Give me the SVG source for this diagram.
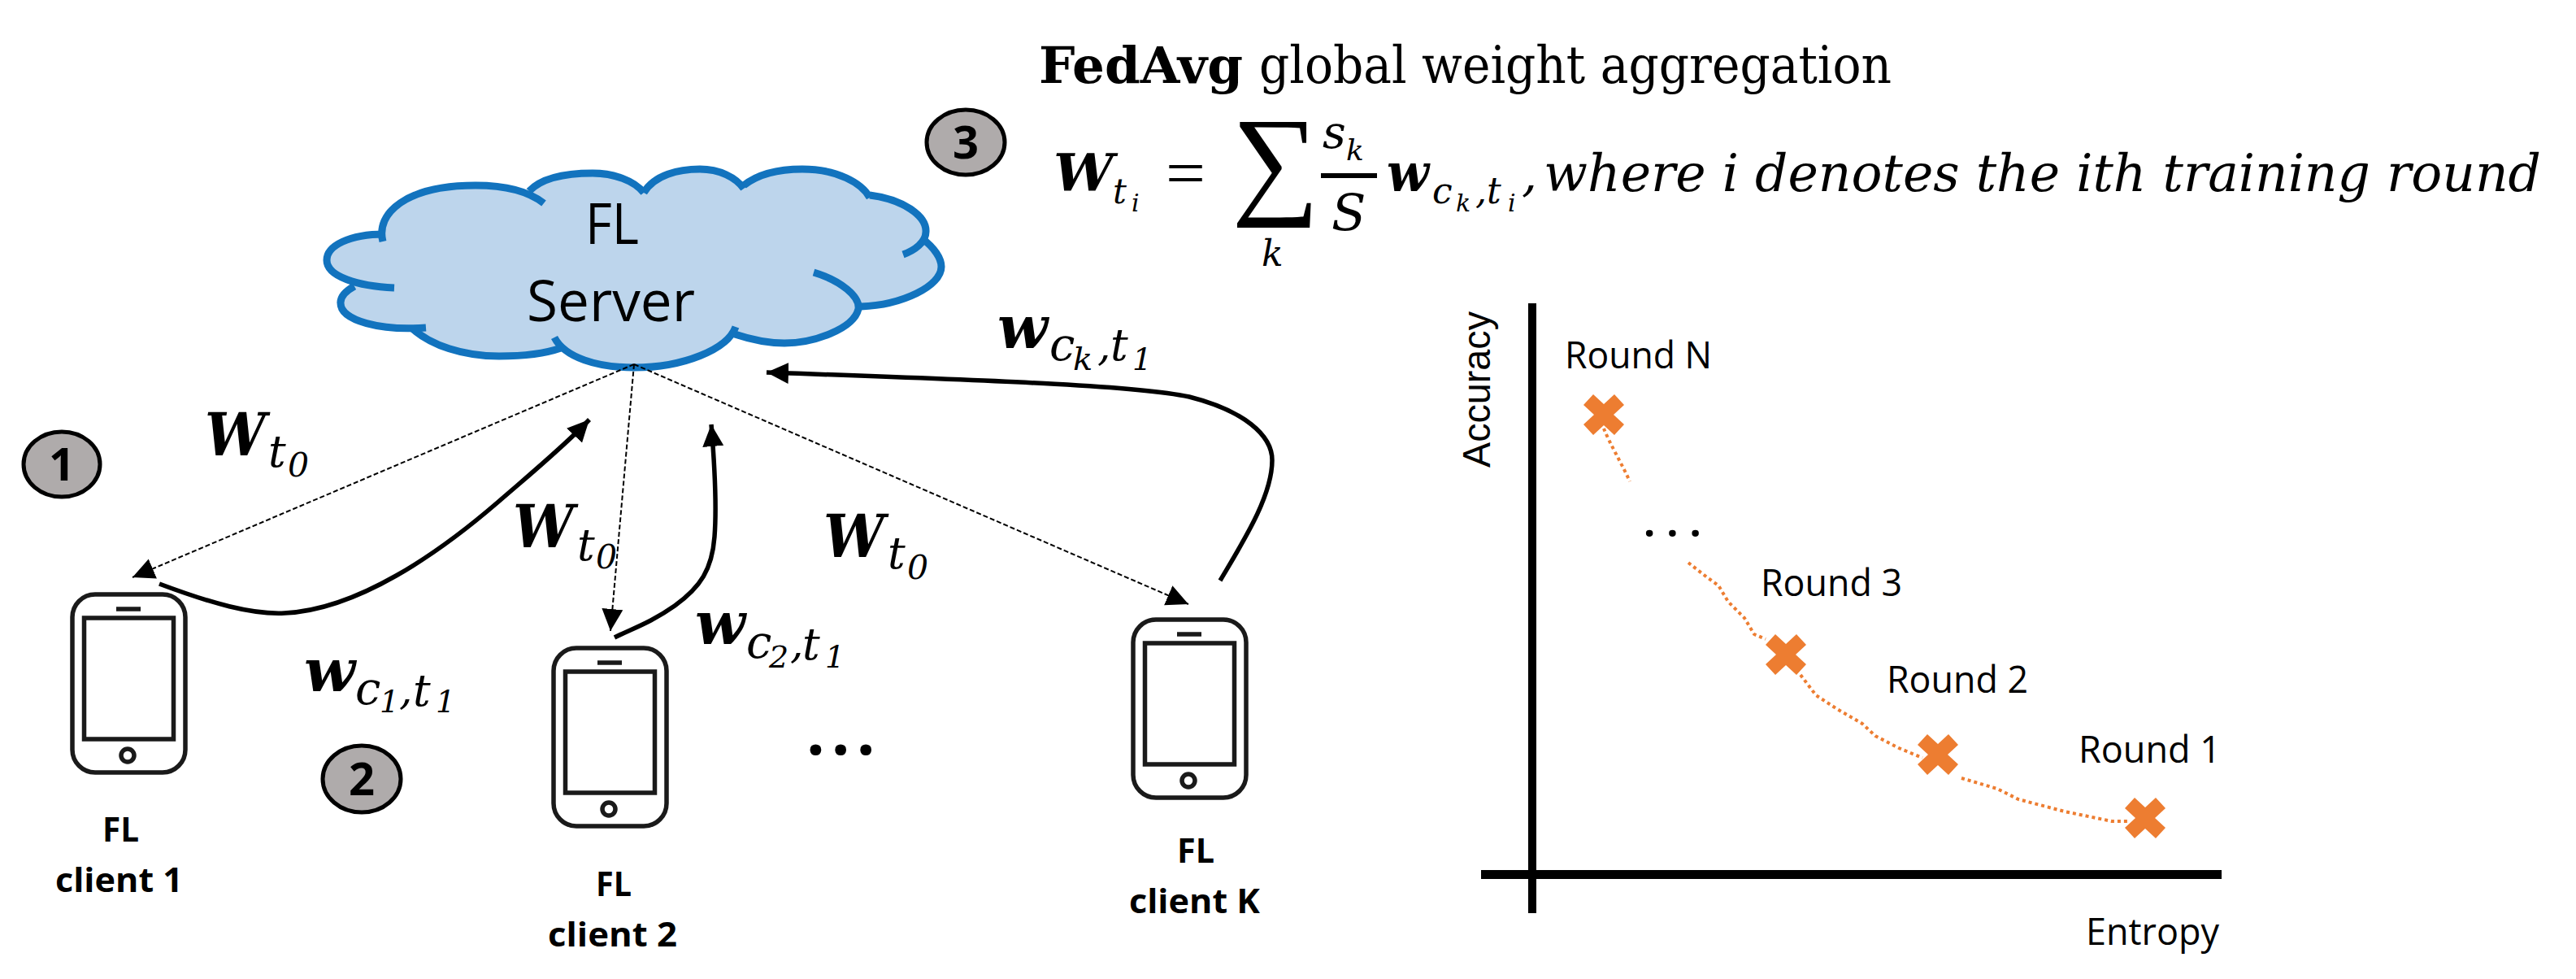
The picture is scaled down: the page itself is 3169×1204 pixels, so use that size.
<svg xmlns="http://www.w3.org/2000/svg" width="3169" height="1204" viewBox="0 0 3169 1204">
<style>
.lb{font-family:"Open Sans","Noto Sans",sans-serif;fill:#000}
.b{font-weight:700}
.mi{font-family:"DejaVu Serif",serif;font-style:italic;fill:#000}
.mb{font-family:"DejaVu Serif",serif;font-style:italic;font-weight:700;fill:#000}
.dash{fill:none;stroke:#000;stroke-width:2;stroke-dasharray:6 3}
.solid{fill:none;stroke:#000;stroke-width:5.5}
.dot{fill:none;stroke:#ED7D31;stroke-width:4;stroke-dasharray:4 4;stroke-linejoin:round}
.lobe{fill:none;stroke:#1273BE;stroke-width:9}
.badge{fill:#AFABAB;stroke:#000;stroke-width:5}
.ph{fill:none;stroke:#1a1a1a;stroke-width:5.5}
.cross{fill:#ED7D31}
.axis{fill:#000}
</style>
<defs>
<marker id="ah" markerUnits="userSpaceOnUse" markerWidth="30" markerHeight="30" refX="27" refY="13" orient="auto"><path d="M0 0L27 13L0 26Z" fill="#000"/></marker>
<g id="phone"><rect class="ph" x="0" y="0" width="139" height="219" rx="28"/><rect class="ph" x="14.5" y="29" width="110" height="149"/><path class="ph" d="M54 18H84"/><circle class="ph" cx="68" cy="198" r="8"/></g>
<polygon id="x" class="cross" points="-13,-25 0,-13 13,-25 25,-12 12,0 25,12 13,25 0,13 -13,25 -25,12 -12,0 -25,-12"/>
</defs>

<g id="title">
<text x="1278" y="102" font-family="'DejaVu Serif',serif" font-weight="700" font-size="62" textLength="251" lengthAdjust="spacingAndGlyphs">FedAvg</text>
<text x="1549" y="102" font-family="'DejaVu Serif',serif" font-size="64" textLength="778" lengthAdjust="spacingAndGlyphs">global weight aggregation</text>
</g>

<g id="formula">
<text class="mb" x="1296" y="235" font-size="64" textLength="74" lengthAdjust="spacingAndGlyphs">W</text>
<text class="mi" x="1369" y="250" font-size="42">t</text>
<text class="mi" x="1392" y="260" font-size="30">i</text>
<text x="1434" y="240" font-family="'Liberation Serif',serif" font-size="80" textLength="49" lengthAdjust="spacingAndGlyphs">=</text>
<text x="1515" y="248" font-family="'Liberation Serif',serif" font-size="150" textLength="108" lengthAdjust="spacingAndGlyphs">∑</text>
<text class="mi" x="1552" y="327" font-size="44">k</text>
<text class="mi" x="1627" y="182" font-size="56">s</text>
<text class="mi" x="1656" y="197" font-size="36">k</text>
<rect x="1625" y="213" width="69" height="6"/>
<text class="mi" x="1638" y="283" font-size="62">S</text>
<text class="mb" x="1706" y="235" font-size="66" textLength="52" lengthAdjust="spacingAndGlyphs">w</text>
<text class="mi" x="1762" y="250" font-size="44">c</text>
<text class="mi" x="1791" y="260" font-size="30">k</text>
<text class="mi" x="1815" y="250" font-size="44">,</text>
<text class="mi" x="1829" y="250" font-size="44">t</text>
<text class="mi" x="1855" y="260" font-size="30">i</text>
<text class="mi" x="1872" y="235" font-size="60">,</text>
<text class="mi" x="1899" y="235" font-size="64" textLength="1227" lengthAdjust="spacingAndGlyphs">where i denotes the ith training round</text>
</g>

<g id="badges">
<g id="badge-1"><ellipse class="badge" cx="76" cy="571" rx="47" ry="40"/><text class="lb b" x="76" y="591" font-size="56" text-anchor="middle">1</text></g>
<g id="badge-2"><ellipse class="badge" cx="445" cy="958" rx="48" ry="41"/><text class="lb b" x="445" y="978" font-size="56" text-anchor="middle">2</text></g>
<g id="badge-3"><ellipse class="badge" cx="1188" cy="175" rx="48" ry="40"/><text class="lb b" x="1188" y="195" font-size="56" text-anchor="middle">3</text></g>
</g>

<g id="server">
<path fill="#BDD5EC" d="M471 297C462 262 500 228 585 228C605 228 635 232 651 235C670 215 710 213 729 213C755 213 780 222 792 235C805 215 835 208 861 208C885 208 905 218 915 228C935 212 965 208 987 208C1030 208 1060 225 1070 240C1110 245 1140 265 1139 285C1139 288 1137 291 1134 293C1150 305 1158 318 1158 328C1158 352 1110 375 1059 377L1056 380C1050 405 1000 422 965 422C945 422 925 418 904 411C895 430 840 452 780 452C735 452 705 442 690 428C670 435 640 438 614 438C570 438 530 425 506 405C470 407 418 395 419 372C419 365 425 358 436 352C420 345 402 335 402 320C402 302 430 288 471 288Z"/>
<path class="lobe" d="M471 297C462 262 500 228 585 228C620 228 650 235 669 250"/>
<path class="lobe" d="M651 235C670 215 710 213 729 213C755 213 780 222 792 237"/>
<path class="lobe" d="M792 237C805 215 835 208 861 208C885 208 905 218 915 232"/>
<path class="lobe" d="M915 228C935 212 965 208 987 208C1030 208 1060 225 1070 243"/>
<path class="lobe" d="M1070 240C1110 245 1140 265 1139 285C1139 298 1125 308 1111 313"/>
<path class="lobe" d="M1134 293C1150 305 1158 318 1158 328C1158 352 1110 375 1059 377"/>
<path class="lobe" d="M1001 335C1035 345 1058 365 1056 380C1050 405 1000 422 965 422C945 422 925 418 904 411"/>
<path class="lobe" d="M905 402C895 430 840 452 780 452C735 452 695 440 682 415"/>
<path class="lobe" d="M690 428C670 435 640 438 614 438C570 438 530 425 506 403"/>
<path class="lobe" d="M524 403C470 407 418 395 419 372C419 365 425 358 436 352"/>
<path class="lobe" d="M485 354C440 352 402 340 402 320C402 302 430 288 473 288"/>
<text class="lb" x="720" y="300" font-size="70" textLength="66" lengthAdjust="spacingAndGlyphs">FL</text>
<text class="lb" x="648" y="395" font-size="70" textLength="207" lengthAdjust="spacingAndGlyphs">Server</text>
</g>

<g id="client-1"><use href="#phone" x="89" y="731"/>
<text class="lb b" x="126" y="1035" font-size="42" textLength="45" lengthAdjust="spacingAndGlyphs">FL</text>
<text class="lb b" x="68" y="1097" font-size="42" textLength="157" lengthAdjust="spacingAndGlyphs">client 1</text></g>
<g id="client-2"><use href="#phone" x="681" y="797"/>
<text class="lb b" x="733" y="1102" font-size="42" textLength="44" lengthAdjust="spacingAndGlyphs">FL</text>
<text class="lb b" x="674" y="1164" font-size="42" textLength="159" lengthAdjust="spacingAndGlyphs">client 2</text></g>
<g id="client-k"><use href="#phone" x="1394" y="762"/>
<text class="lb b" x="1448" y="1061" font-size="42" textLength="46" lengthAdjust="spacingAndGlyphs">FL</text>
<text class="lb b" x="1389" y="1123" font-size="42" textLength="161" lengthAdjust="spacingAndGlyphs">client K</text></g>
<text class="lb b" x="992" y="928" font-size="80" letter-spacing="8">...</text>

<g id="connectors">
<path class="dash" d="M780 448L163 710" marker-end="url(#ah)"/>
<path class="dash" d="M780 448L751 776" marker-end="url(#ah)"/>
<path class="dash" d="M780 448L1462 743" marker-end="url(#ah)"/>
<path class="solid" d="M196 718C260 742 310 756 350 754C440 750 540 680 612 618C650 585 695 548 725 516" marker-end="url(#ah)"/>
<path class="solid" d="M756 784C780 772 800 766 830 745C862 722 876 700 879 660C882 620 879 570 875 522" marker-end="url(#ah)"/>
<path class="solid" d="M1501 714C1530 665 1565 610 1565 566C1565 535 1530 505 1463 488C1400 475 1259 469 943 458" marker-end="url(#ah)"/>
</g>

<g id="weights">
<text class="mb" x="252" y="560" font-size="72" textLength="75" lengthAdjust="spacingAndGlyphs">W</text><text class="mi" x="330" y="574" font-size="54">t</text><text class="mi" x="354" y="586" font-size="41">0</text>
<text class="mb" x="631" y="673" font-size="72" textLength="75" lengthAdjust="spacingAndGlyphs">W</text><text class="mi" x="710" y="689" font-size="54">t</text><text class="mi" x="733" y="699" font-size="41">0</text>
<text class="mb" x="1013" y="685" font-size="72" textLength="75" lengthAdjust="spacingAndGlyphs">W</text><text class="mi" x="1092" y="699" font-size="54">t</text><text class="mi" x="1116" y="712" font-size="41">0</text>
<text class="mb" x="374" y="850" font-size="72" textLength="63" lengthAdjust="spacingAndGlyphs">w</text><text class="mi" x="437" y="866" font-size="56">c</text><text class="mi" x="467" y="876" font-size="38">1</text><text class="mi" x="491" y="866" font-size="52">,</text><text class="mi" x="508" y="868" font-size="54">t</text><text class="mi" x="536" y="876" font-size="38">1</text>
<text class="mb" x="855" y="792" font-size="72" textLength="62" lengthAdjust="spacingAndGlyphs">w</text><text class="mi" x="918" y="809" font-size="56">c</text><text class="mi" x="946" y="821" font-size="38">2</text><text class="mi" x="972" y="809" font-size="52">,</text><text class="mi" x="987" y="811" font-size="54">t</text><text class="mi" x="1015" y="821" font-size="38">1</text>
<text class="mb" x="1227" y="428" font-size="72" textLength="62" lengthAdjust="spacingAndGlyphs">w</text><text class="mi" x="1291" y="443" font-size="56">c</text><text class="mi" x="1320" y="455" font-size="40">k</text><text class="mi" x="1350" y="443" font-size="52">,</text><text class="mi" x="1366" y="443" font-size="54">t</text><text class="mi" x="1393" y="455" font-size="38">1</text>
</g>

<g id="chart">
<rect class="axis" x="1880" y="373" width="10" height="750"/>
<rect class="axis" x="1822" y="1070" width="911" height="11"/>
<text transform="translate(1833 575) rotate(-90)" font-family="'Liberation Sans',sans-serif" font-size="49" textLength="192" lengthAdjust="spacingAndGlyphs">Accuracy</text>
<text class="lb" x="2566" y="1162" font-size="46" textLength="164" lengthAdjust="spacingAndGlyphs">Entropy</text>
<path class="dot" d="M1973 527C1980 545 1995 570 2005 592"/>
<path class="dot" d="M2077 692L2100 710L2114 720L2126 740L2146 760L2158 780L2172 786"/>
<path class="dot" d="M2215 830L2234 855L2260 872L2291 890L2307 905L2336 920L2365 932"/>
<path class="dot" d="M2413 957L2457 970L2483 983L2540 998L2598 1010L2620 1010"/>
<use href="#x" x="1973" y="510"/><use href="#x" x="2197" y="805"/><use href="#x" x="2384" y="928"/><use href="#x" x="2639" y="1006"/>
<text class="lb" x="1925" y="453" font-size="46" textLength="181" lengthAdjust="spacingAndGlyphs">Round N</text>
<text class="lb" x="2166" y="733" font-size="46" textLength="174" lengthAdjust="spacingAndGlyphs">Round 3</text>
<text class="lb" x="2321" y="852" font-size="46" textLength="174" lengthAdjust="spacingAndGlyphs">Round 2</text>
<text class="lb" x="2557" y="938" font-size="46" textLength="175" lengthAdjust="spacingAndGlyphs">Round 1</text>
<text class="lb b" x="2022" y="660" font-size="50" letter-spacing="14">...</text>
</g>
</svg>
